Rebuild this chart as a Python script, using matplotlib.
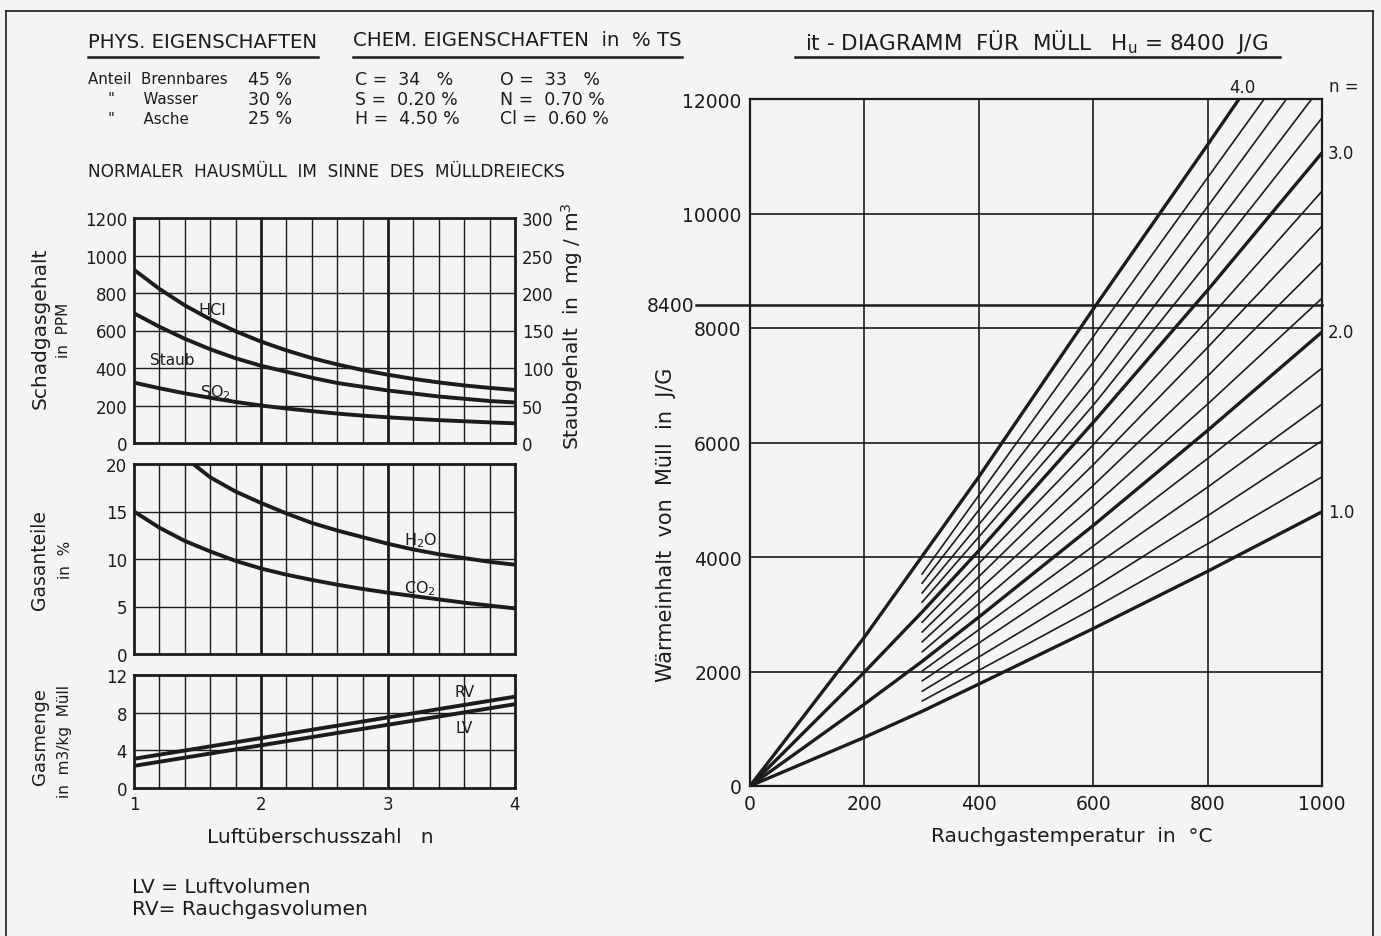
#%% Libraries:

import numpy as np
import matplotlib
matplotlib.use("Agg")
import matplotlib.pyplot as plt


#%% Data:

# left: Luftueberschusszahl n (steps of 0.2)
n_curve = [1.0, 1.2, 1.4, 1.6, 1.8, 2.0, 2.2, 2.4, 2.6, 2.8, 3.0, 3.2, 3.4, 3.6, 3.8, 4.0]
hcl_ppm = [924, 822, 734, 660, 596, 541, 494, 453, 419, 389, 364, 342, 323, 307, 294, 283]
so2_ppm = [322, 292, 265, 241, 219, 200, 184, 170, 157, 146, 137, 129, 122, 116, 110, 105]
staub_mg = [173, 155, 139, 125, 113, 103, 95, 87, 80, 75, 70, 66, 62, 59, 56, 54]  # right axis, mg/m3

n_h2o = [1.4, 1.6, 1.8, 2.0, 2.2, 2.4, 2.6, 2.8, 3.0, 3.2, 3.4, 3.6, 3.8, 4.0]
h2o_pct = [20.7, 18.6, 17.1, 15.9, 14.8, 13.8, 13.0, 12.3, 11.6, 11.0, 10.5, 10.1, 9.7, 9.4]
co2_pct = [15.0, 13.3, 11.9, 10.8, 9.8, 9.0, 8.35, 7.8, 7.3, 6.85, 6.45, 6.1, 5.75, 5.4, 5.1, 4.8]

n_vol = [1, 4]
rv_vol = [3.1, 9.7]
lv_vol = [2.35, 8.9]

# right: it-diagram, heat content (J/G) per n at several flue gas temperatures
n_lines = [1.0, 1.2, 1.4, 1.6, 1.8, 2.0, 2.2, 2.4, 2.6, 2.8, 3.0, 3.2, 3.4, 3.6, 3.8, 4.0]
i_300 = [1300, 1480, 1650, 1830, 2000, 2170, 2335, 2510, 2680, 2850, 3030, 3200, 3360, 3530, 3690, 4000]
i_600 = [2750, 3100, 3460, 3830, 4190, 4550, 4890, 5250, 5610, 5960, 6350, 6650, 6980, 7400, 7850, 8330]
i_800 = [3750, 4230, 4720, 5220, 5720, 6210, 6670, 7160, 7660, 8140, 8660, 9140,
         np.nan, np.nan, np.nan, 11200]
t_end = [1000, 1000, 1000, 1000, 1000, 1000, 1000, 1000, 1000, 1000, 1000, 1000, 982, 938, 899, 855]
i_end = [4790, 5400, 6030, 6670, 7300, 7930, 8520, 9150, 9780, 10390, 11060, 11670,
         12000, 12000, 12000, 12000]
heavy_n = [1.0, 2.0, 3.0, 4.0]
i_200_heavy = [850, 1430, 1990, 2600]
i_400_heavy = [1780, 2950, 4110, 5400]
hu = 8400


#%% Figure:

W, H = 1381, 937
bg = "#f4f4f4"
ink = "#1c1c1c"
plt.rcParams["font.family"] = ["DejaVu Sans"]

fig = plt.figure(figsize=(W / 100, H / 100), dpi=100, facecolor=bg)


def px_axes(x0, y0, x1, y1):
    a = fig.add_axes([x0 / W, 1 - y1 / H, (x1 - x0) / W, (y1 - y0) / H])
    a.set_facecolor("none")
    return a


def ftext(x, y, s, **kw):
    kw.setdefault("color", ink)
    return fig.text(x / W, 1 - y / H, s, **kw)


def fline(x0, y0, x1, y1, lw=1.5):
    fig.add_artist(plt.Line2D([x0 / W, x1 / W], [1 - y0 / H, 1 - y1 / H], color=ink, lw=lw))


# page frame
fline(6, 12, 1373, 12, lw=1.2)
fline(6, 12, 6, 937, lw=1.2)
fline(1373, 12, 1373, 937, lw=1.2)

# header texts
ftext(88, 43, "PHYS. EIGENSCHAFTEN", fontsize=14.2, va="center")
fline(88, 58, 318, 58, lw=1.8)
ftext(353, 40, "CHEM. EIGENSCHAFTEN  in  % TS", fontsize=14.2, va="center")
fline(353, 58, 682, 58, lw=1.8)

rows_y = [80, 100, 119]
ftext(88, rows_y[0], "Anteil  Brennbares", fontsize=10.8, va="center")
ftext(108, rows_y[1], "\"      Wasser", fontsize=10.8, va="center")
ftext(108, rows_y[2], "\"      Asche", fontsize=10.8, va="center")
for y, s in zip(rows_y, ["45 %", "30 %", "25 %"]):
    ftext(248, y, s, fontsize=12.5, va="center")
for y, s in zip(rows_y, ["C =  34   %", "S =  0.20 %", "H =  4.50 %"]):
    ftext(355, y, s, fontsize=12.5, va="center")
for y, s in zip(rows_y, ["O =  33   %", "N =  0.70 %", "Cl =  0.60 %"]):
    ftext(500, y, s, fontsize=12.5, va="center")

ftext(88, 172, "NORMALER  HAUSMÜLL  IM  SINNE  DES  MÜLLDREIECKS", fontsize=12.2, va="center")


#%% Left panels:

def left_grid(ax, ymax, ystep):
    ax.set_xlim(1, 4)
    ax.set_ylim(0, ymax)
    for xv in np.arange(1.2, 4.0, 0.2):
        heavy = abs(xv - 2) < 1e-6 or abs(xv - 3) < 1e-6
        ax.axvline(xv, color=ink, lw=2.0 if heavy else 1.0, zorder=1)
    for yv in np.arange(ystep, ymax, ystep):
        ax.axhline(yv, color=ink, lw=1.0, zorder=1)
    for sp in ax.spines.values():
        sp.set_linewidth(2.0)
        sp.set_color(ink)
    ax.tick_params(length=0, labelsize=12, colors=ink, pad=5)
    ax.set_yticks(np.arange(0, ymax + 1e-9, ystep))


curve_kw = dict(color=ink, lw=2.8, zorder=3, solid_joinstyle="round", solid_capstyle="butt")

# top: Schadgas
ax1 = px_axes(134, 219, 515, 444)
left_grid(ax1, 1200, 200)
ax1.set_xticks([])
ax1.plot(n_curve, hcl_ppm, **curve_kw)
ax1.plot(n_curve, so2_ppm, **curve_kw)
ax1r = ax1.twinx()
ax1r.set_ylim(0, 300)
ax1r.set_yticks(np.arange(0, 301, 50))
ax1r.tick_params(length=0, labelsize=12, colors=ink, pad=5)
ax1r.plot(n_curve, staub_mg, **curve_kw)
for sp in ax1r.spines.values():
    sp.set_visible(False)
ax1.text(1.62, 712, "HCl", fontsize=11.5, color=ink, ha="center", va="center")
ax1.text(1.3, 445, "Staub", fontsize=11, color=ink, ha="center", va="center")
ax1.text(1.64, 272, "SO$_2$", fontsize=11.5, color=ink, ha="center", va="center")
ftext(40, 328, "Schadgasgehalt", rotation=90, fontsize=14.5, ha="center", va="center")
ftext(63, 330, "in  PPM", rotation=90, fontsize=11, ha="center", va="center")
ftext(572, 326, "Staubgehalt  in  mg / m$^3$", rotation=90, fontsize=14.5, ha="center", va="center")

# middle: Gasanteile
ax2 = px_axes(134, 465, 515, 655)
left_grid(ax2, 20, 5)
ax2.set_xticks([])
ax2.plot(n_h2o, h2o_pct, **curve_kw)
ax2.plot(n_curve, co2_pct, **curve_kw)
ax2.text(3.26, 12.0, "H$_2$O", fontsize=11.5, color=ink, ha="center", va="center")
ax2.text(3.25, 7.0, "CO$_2$", fontsize=11.5, color=ink, ha="center", va="center")
ftext(40, 560, "Gasanteile", rotation=90, fontsize=13.5, ha="center", va="center")
ftext(65, 560, "in  %", rotation=90, fontsize=11, ha="center", va="center")

# bottom: Gasmenge
ax3 = px_axes(134, 676, 515, 789)
left_grid(ax3, 12, 4)
ax3.set_xticks([1, 2, 3, 4])
ax3.plot(n_vol, rv_vol, **curve_kw)
ax3.plot(n_vol, lv_vol, **curve_kw)
ax3.text(3.6, 10.3, "RV", fontsize=11, color=ink, ha="center", va="center")
ax3.text(3.6, 6.4, "LV", fontsize=11, color=ink, ha="center", va="center")
ftext(40, 737, "Gasmenge", rotation=90, fontsize=13, ha="center", va="center")
ftext(65, 742, "in  m3/kg  Müll", rotation=90, fontsize=11, ha="center", va="center")

ftext(320, 838, "Luftüberschusszahl   n", fontsize=14.5, ha="center", va="center")
ftext(132, 888, "LV = Luftvolumen", fontsize=14.5, va="center")
ftext(132, 910, "RV= Rauchgasvolumen", fontsize=14.5, va="center")


#%% Right panel: it-Diagramm

ax = px_axes(750, 100, 1322, 787)
ax.set_xlim(0, 1000)
ax.set_ylim(0, 12000)
for xv in [200, 400, 600, 800]:
    ax.axvline(xv, color=ink, lw=1.2, zorder=1)
for yv in [2000, 4000, 6000, 8000, 10000]:
    ax.axhline(yv, color=ink, lw=1.2, zorder=1)
for sp in ax.spines.values():
    sp.set_linewidth(1.6)
    sp.set_color(ink)
ax.set_xticks(np.arange(0, 1001, 200))
ax.set_yticks(np.arange(0, 12001, 2000))
ax.tick_params(length=0, labelsize=13.5, colors=ink, pad=6)

for k, n in enumerate(n_lines):
    ts, vs = [], []
    if n in heavy_n:
        j = heavy_n.index(n)
        ts += [0, 200]
        vs += [0, i_200_heavy[j]]
    ts.append(300)
    vs.append(i_300[k])
    if n in heavy_n:
        ts.append(400)
        vs.append(i_400_heavy[heavy_n.index(n)])
    ts.append(600)
    vs.append(i_600[k])
    if not np.isnan(i_800[k]):
        ts.append(800)
        vs.append(i_800[k])
    ts.append(t_end[k])
    vs.append(i_end[k])
    lw = 2.4 if n in heavy_n else 1.2
    ax.plot(ts, vs, color=ink, lw=lw, zorder=3 if n in heavy_n else 2,
            solid_capstyle="butt", solid_joinstyle="round")

# Hu line
ax.plot([-95, 1000], [hu, hu], color=ink, lw=1.8, clip_on=False, zorder=2)
ax.text(-97, hu, str(hu), fontsize=13.5, color=ink, ha="right", va="center")

# n labels
k4 = n_lines.index(4.0)
ax.text(t_end[k4] + 5, 12210, "4.0", fontsize=12, color=ink, ha="center", va="center")
ax.text(1012, 12230, "n =", fontsize=12, color=ink, ha="left", va="center")
for n in [3.0, 2.0, 1.0]:
    k = n_lines.index(n)
    ax.text(1010, i_end[k], "%.1f" % n, fontsize=12, color=ink, ha="left", va="center")

ftext(1072, 836, "Rauchgastemperatur  in  °C", fontsize=14.5, ha="center", va="center")
ftext(666, 525, "Wärmeinhalt  von  Müll  in  J/G", rotation=90, fontsize=15, ha="center", va="center")

ftext(1037, 42, "it - DIAGRAMM  FÜR  MÜLL   H$_\\mathrm{u}$ = 8400  J/G", fontsize=15.5, ha="center", va="center")
fline(795, 58, 1280, 58, lw=1.8)

plt.savefig("out.png", dpi=100, facecolor=bg)
